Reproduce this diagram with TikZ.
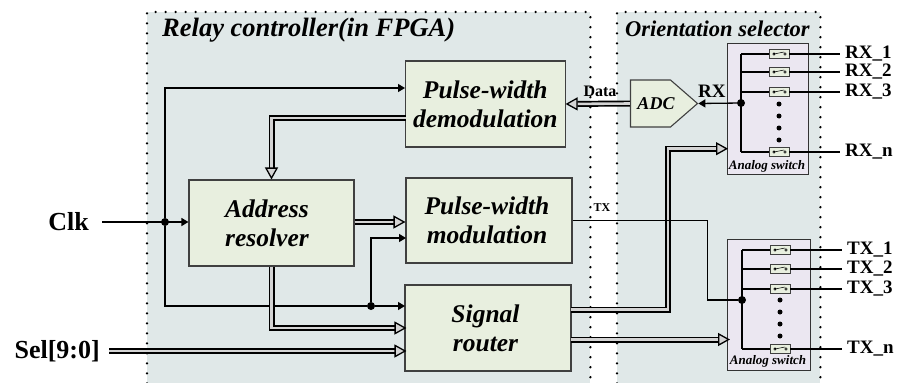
\documentclass[tikz,border=0pt]{standalone}
\usepackage{fontspec}
\setmainfont{Liberation Serif}
\usetikzlibrary{arrows.meta,shapes.symbols}
\definecolor{panelgray}{HTML}{E0E8E8}
\definecolor{blockgreen}{HTML}{E8EFDF}
\definecolor{switchlilac}{HTML}{EBE7F1}
\definecolor{busgray}{HTML}{D4D4D4}
\tikzset{
  panelbox/.style={fill=panelgray, anchor=north west, inner sep=0pt},
  dotline/.style={line width=2.6pt, line cap=round, dash pattern=on 0pt off 10pt},
  blockbox/.style={draw=black!75, fill=blockgreen, line width=1.1pt, inner sep=0pt, align=center,
    font=\fontsize{25.5}{29}\selectfont\bfseries\itshape},
  groupbox/.style={draw=black!80, fill=switchlilac, line width=0.9pt, inner sep=0pt, anchor=north west},
  switchbox/.style={draw=black!75, fill=blockgreen, line width=0.9pt, inner sep=0pt, minimum width=20, minimum height=9},
  wire/.style={line width=1.3pt},
  sig/.style={wire, -{Triangle[length=7pt,width=8pt]}},
  bus/.style={line width=1.7pt, double=busgray, double distance=2.6pt},
  busarrow/.style={bus, -{Triangle[length=12pt,width=13pt,fill=busgray,line width=1.3pt]}},
  dotnode/.style={circle, fill=black, inner sep=0pt, minimum size=#1},
  biglabel/.style={font=\fontsize{26}{26}\selectfont\bfseries},
  portlabel/.style={font=\fontsize{19}{19}\selectfont\bfseries, anchor=west, inner ysep=0pt, inner xsep=5pt},
  title/.style={font=\bfseries\itshape, anchor=west, inner sep=0pt},
}
\begin{document}
\begin{tikzpicture}[x=1pt,y=-1pt]
  \useasboundingbox (0,0) rectangle (898,383);
  % background panels
  \node[panelbox, minimum width=443, minimum height=371] (relay) at (147,12) {};
  \node[panelbox, minimum width=203, minimum height=371] (orient) at (617,12) {};
  \draw[dotline] (relay.south west) -- (relay.north west) -- (relay.north east) -- (relay.south east);
  \draw[dotline] (orient.south west) -- (orient.north west) -- (orient.north east) -- (orient.south east);
  \node[title, font=\fontsize{26.5}{26.5}\selectfont\bfseries\itshape] (relaytitle) at (162,30) {Relay controller(in FPGA)};
  \node[title, font=\fontsize{22.5}{22.5}\selectfont\bfseries\itshape] (orienttitle) at (625,29) {Orientation selector};
  % blocks
  \node[blockbox, minimum width=159.5, minimum height=86] (demod) at (485.3,104) {Pulse-width\\demodulation};
  \node[blockbox, minimum width=166, minimum height=85] (mod) at (489,220.5) {Pulse-width\kern4pt\\modulation\kern4pt};
  \node[blockbox, minimum width=166, minimum height=86] (router) at (488,328) {Signal\kern5pt\\router\kern5pt};
  \node[blockbox, minimum width=165, minimum height=86] (addr) at (271.5,223) {Address\kern9pt\\resolver\kern9pt};
  \node[signal, signal to=east, signal pointer angle=82, draw=black!75, fill=blockgreen, line width=1.1pt,
    inner sep=0pt, minimum width=67, minimum height=47] (adc) at (650.5,103.5) {};
  \node[font=\fontsize{18}{18}\selectfont\bfseries\itshape] (adctext) at (656,103.5) {ADC};
  % analog switches
  \node[groupbox, minimum width=81, minimum height=131] (rxsw) at (727,43) {};
  \node[groupbox, minimum width=83, minimum height=131] (txsw) at (727,239) {};
  \node[font=\fontsize{13}{13}\selectfont\bfseries\itshape] (rxswlabel) at (767,166) {Analog switch};
  \node[font=\fontsize{13}{13}\selectfont\bfseries\itshape] (txswlabel) at (768,361) {Analog switch};
  \node[dotnode=8] (rxj) at (741,103) {};
  \node[dotnode=8] (txj) at (742,300) {};
  \draw[sig] (rxj) -- (adc.east);
  \node[portlabel, inner xsep=0pt] (rxlabel) at (698,91) {RX};
  \foreach \n/\name/\yy in {1/1/54, 2/2/72, 3/3/92, 4/n/152} {
    \node[switchbox] (rxs\n) at (779,\yy) {};
    \node[portlabel] (rxl\n) at (840,\yy) {RX\_\name};
    \draw[wire] (rxj |- rxs\n.west) -- (rxs\n.west);
    \draw[wire] (rxs\n.east) -- (rxl\n.west);
    \draw[line width=0.5pt] ([xshift=-5pt]rxs\n.center) circle (1.3pt) -- ([xshift=5pt,yshift=2pt]rxs\n.center) ([xshift=6pt]rxs\n.center) circle (1.3pt);
  }
  \foreach \n/\name/\yy in {1/1/250, 2/2/269, 3/3/289, 4/n/349} {
    \node[switchbox] (txs\n) at (780,\yy) {};
    \node[portlabel] (txl\n) at (842,\yy) {TX\_\name};
    \draw[wire] (txj |- txs\n.west) -- (txs\n.west);
    \draw[wire] (txs\n.east) -- (txl\n.west);
    \draw[line width=0.5pt] ([xshift=-5pt]txs\n.center) circle (1.3pt) -- ([xshift=5pt,yshift=2pt]txs\n.center) ([xshift=6pt]txs\n.center) circle (1.3pt);
  }
  \draw[wire] (rxj |- rxs1.west) -- (rxj |- rxs4.west);
  \draw[wire] (txj |- txs1.west) -- (txj |- txs4.west);
  \foreach \yy in {104,116,128,140} \node[dotnode=5] (rxd\yy) at (779,\yy) {};
  \foreach \yy in {300,312,324,336} \node[dotnode=5] (txd\yy) at (780,\yy) {};
  % inputs
  \node[biglabel, inner xsep=13pt, inner ysep=0pt, anchor=east] (clk) at (102,222) {Clk};
  \node[biglabel, inner xsep=9pt, inner ysep=0pt, anchor=east] (sel) at (109,351) {Sel[9:0]};
  \node[dotnode=8] (clkdot) at (165,222) {};
  \node[dotnode=8] (rtrdot) at (371,306) {};
  \coordinate (clktop) at (165,88);
  \coordinate (clkbot) at (165,306);
  \coordinate (modclk) at (406,238);
  \coordinate (rtrclk) at (405,306);
  \coordinate (demout) at (405.5,118);
  \coordinate (rtrup) at (571,309.5);
  \coordinate (rtrdn) at (571,339.5);
  \coordinate (rxin) at (728,148.7);
  \coordinate (txin) at (730,339.5);
  % clock wires
  \draw[sig] (clk.east) -- (addr.west |- clk.east);
  \draw[sig] (clkdot) -- (clktop) -- (clktop -| demod.west);
  \draw[wire] (clkdot) -- (clkbot) -- (rtrdot);
  \draw[sig] (rtrdot) -- (rtrclk);
  \draw[sig] (rtrdot) |- (modclk);
  % buses
  \draw[busarrow] (demout) -| (addr.north);
  \draw[busarrow] (addr.east |- clk.east) -- (mod.west |- clk.east);
  \draw[busarrow, shorten >=-2pt] (addr.south) |- (router.west);
  \draw[busarrow, shorten >=-2pt] (sel.east) -- (router.west |- sel.east);
  \draw[busarrow] (adc.west) -- (demod.east);
  \draw[busarrow] (rtrup) -- ++(97,0) |- (rxin);
  \draw[busarrow] (rtrdn) -- (txin);
  \draw[wire] (mod.east) -- ++(135,0) |- (txj);
  \node[font=\fontsize{16}{16}\selectfont\bfseries, inner sep=0pt] (datalabel) at (600,91) {Data};
  \node[font=\fontsize{12}{12}\selectfont\bfseries, inner sep=0pt] (txlabel) at (602,208) {TX};
\end{tikzpicture}
\end{document}
